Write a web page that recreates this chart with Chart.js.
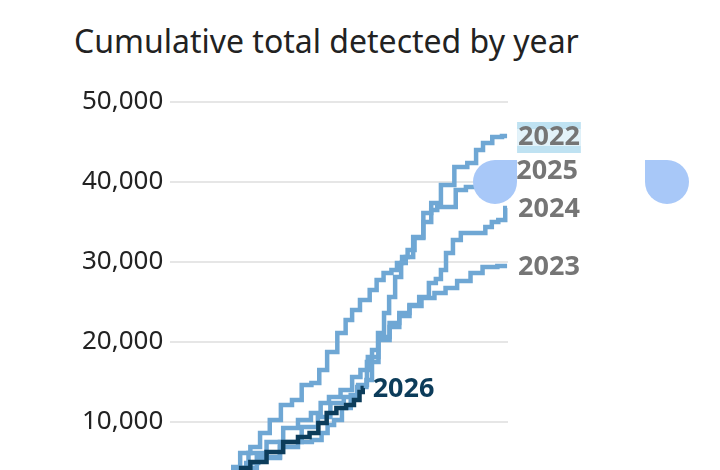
<!DOCTYPE html>
<html>
<head>
<meta charset="utf-8">
<script src="https://cdn.jsdelivr.net/npm/chart.js@4"></script>
<style>
  html, body { margin: 0; padding: 0; background: #fff; overflow: hidden; }
  body { width: 720px; height: 470px; position: relative; }
  #subtitle {
    position: absolute; left: 74px; top: 19px;
    font-family: "Noto Sans", sans-serif; font-size: 32px; color: #222;
    white-space: nowrap;
  }
  #wrap { position: absolute; left: 0; top: 0; width: 720px; height: 540px; }
  .blob { position: absolute; width: 44px; height: 44px; background: #a8c8f8; }
</style>
</head>
<body>
<div id="subtitle">Cumulative total detected by year</div>
<div id="wrap"><canvas id="chart"></canvas></div>
<div class="blob" style="left:473px; top:160px; border-radius:22px 0 22px 22px;"></div>
<div class="blob" style="left:645px; top:160px; border-radius:0 22px 22px 22px;"></div>
<script>
// day of year / cumulative total (first point = where each line leaves the bottom edge)
const years = ["2022", "2023", "2024", "2025", "2026"];

const days2022 = [80, 84, 106, 131, 153, 166, 180, 195, 209, 215, 221, 228, 234, 239, 247, 252, 257, 268, 279, 285, 300, 314, 328, 333, 343, 353, 364];
const vals2022 = [3750, 4875, 5500, 7500, 9375, 10625, 12375, 13125, 14375, 15250, 19000, 21125, 23625, 25625, 28125, 29875, 30625, 33125, 36125, 37375, 39625, 41875, 42375, 44000, 44875, 45625, 45750];

const days2023 = [77, 81, 106, 131, 145, 161, 166, 174, 180, 191, 199, 207, 218, 232, 242, 253, 264, 279, 292, 303, 317, 332, 343, 364];
const vals2023 = [3750, 4250, 5625, 6875, 7500, 7750, 8625, 9625, 10250, 11750, 13375, 14625, 17500, 20250, 21875, 23250, 24500, 25500, 26125, 26750, 27625, 28625, 29375, 29500];

const days2024 = [70, 74, 95, 113, 131, 145, 159, 166, 177, 191, 202, 209, 218, 232, 242, 253, 264, 274, 285, 289, 296, 300, 311, 317, 335, 346, 349, 360, 364];
const vals2024 = [3750, 4250, 6125, 7500, 9250, 10250, 11125, 12375, 13125, 14000, 15625, 16500, 18125, 20625, 22375, 23625, 24625, 25625, 27375, 27875, 29000, 31125, 32750, 33625, 33625, 34375, 35000, 35250, 36750];

const days2025 = [66, 70, 81, 92, 102, 113, 126, 137, 147, 158, 164, 175, 186, 193, 200, 210, 221, 225, 236, 242, 248, 253, 260, 268, 279, 285, 292, 306, 311, 328, 346, 362];
const vals2025 = [3750, 4375, 6125, 6875, 8625, 10250, 12125, 12750, 14625, 14875, 16500, 18750, 21125, 22750, 24000, 25250, 26500, 27750, 28625, 29000, 29875, 30625, 31500, 33000, 35000, 36500, 36875, 36875, 39000, 39375, 40500, 41500];

const days2026 = [75, 78, 95, 113, 131, 145, 156, 164, 174, 185, 195, 202, 207, 209];
const vals2026 = [3750, 4250, 5000, 6250, 7500, 8125, 8625, 9875, 11125, 11750, 12125, 12750, 13750, 14250];

const yTicks = [0, 10000, 20000, 30000, 40000, 50000];

const lightBlue = "#6fa7d4";
const darkBlue = "#0c3c5a";

function pts(days, vals) {
  return days.map((d, i) => ({ x: d, y: vals[i] }));
}

// first dataset is painted last, so the current year sits on top
const series = [
  { label: "2026", data: pts(days2026, vals2026), color: darkBlue },
  { label: "2022", data: pts(days2022, vals2022), color: lightBlue },
  { label: "2023", data: pts(days2023, vals2023), color: lightBlue },
  { label: "2024", data: pts(days2024, vals2024), color: lightBlue },
  { label: "2025", data: pts(days2025, vals2025), color: lightBlue }
];

// year labels at the end of each line
const endLabels = {
  id: "endLabels",
  afterDatasetsDraw(chart) {
    const c = chart.ctx;
    c.save();
    c.font = "bold 27px 'Noto Sans', sans-serif";
    c.textBaseline = "middle";
    chart.data.datasets.forEach((ds, i) => {
      const meta = chart.getDatasetMeta(i);
      const last = meta.data[meta.data.length - 1];
      const x = last.x + (ds.label === "2026" ? 9 : 11);
      const y = last.y + 1;
      if (ds.label === "2022") {
        const w = c.measureText(ds.label).width;
        c.fillStyle = "#bfe2f2";
        c.fillRect(x - 1, y - 15, w + 2, 31);
        c.fillStyle = "#e3f3fa";
        c.fillRect(x - 1, y - 8, w + 2, 17);
      }
      c.fillStyle = ds.label === "2026" ? darkBlue : "#757575";
      c.fillText(ds.label, x, y);
    });
    c.restore();
  }
};

new Chart(document.getElementById("chart"), {
  type: "line",
  data: {
    datasets: series.map(s => ({
      label: s.label,
      data: s.data,
      borderColor: s.color,
      borderWidth: 4.5,
      pointRadius: 0,
      stepped: "middle",
      fill: false
    }))
  },
  options: {
    responsive: true,
    maintainAspectRatio: false,
    animation: false,
    layout: { padding: { top: 102, right: 212, bottom: 38, left: 75 } },
    plugins: { legend: { display: false }, tooltip: { enabled: false } },
    scales: {
      x: { type: "linear", min: 0, max: 365, display: false },
      y: {
        min: 0, max: 50000,
        afterBuildTicks: axis => { axis.ticks = yTicks.map(v => ({ value: v })); },
        border: { display: false },
        grid: { color: "#e6e6e6", lineWidth: 2, drawTicks: false },
        ticks: {
          padding: 7,
          color: "#222",
          font: { family: "'Noto Sans', sans-serif", size: 26 },
          callback: v => v.toLocaleString("en-GB")
        }
      }
    }
  },
  plugins: [endLabels]
});
</script>
</body>
</html>
